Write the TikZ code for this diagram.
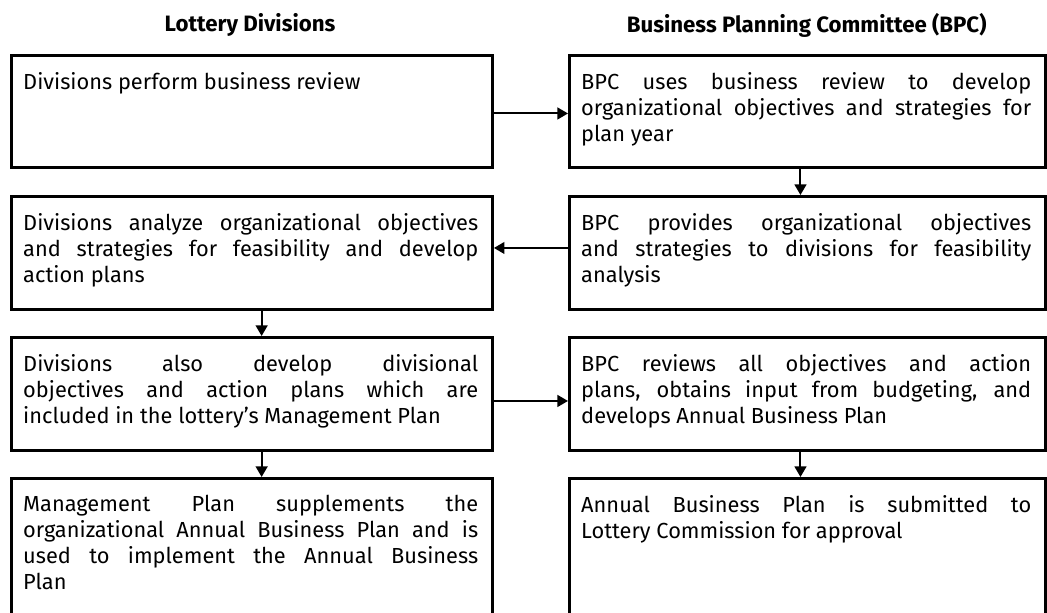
\documentclass[tikz,border=0pt]{standalone}
\usepackage{fontspec}
\setmainfont{Fira Sans}
\usetikzlibrary{arrows.meta}
\usetikzlibrary{positioning}

\tikzset{
	box/.style={draw, rectangle, line width=2.5pt, inner sep=0pt, anchor=north west},
	boxtext/.style={anchor=north west, inner sep=0pt, align=justify,
		font=\fontsize{18.6}{22}\selectfont},
	head/.style={inner sep=0pt, font=\bfseries\fontsize{19}{22}\selectfont},
	link/.style={-{Triangle[length=9pt,width=10pt]}, line width=1.7pt},
}

\begin{document}
\begin{tikzpicture}
	\clip (0,0) rectangle (31.41,-18.36);

	% column headings
	\node[head] (hleft) at (7.5,-0.75) {Lottery Divisions};
	\node[head] (hright) at (24.2,-0.75) {Business Planning Committee (BPC)};

	% boxes
	\begin{scope}[every node/.style={box}]
		\node[minimum width=14.43cm, minimum height=3.36cm] (lb1) at (0.3,-1.62) {};
		\node[minimum width=14.28cm, minimum height=3.36cm] (rb1) at (17.04,-1.62) {};
		\node[minimum width=14.43cm, minimum height=3.39cm] (lb2) at (0.3,-5.85) {};
		\node[minimum width=14.28cm, minimum height=3.39cm] (rb2) at (17.04,-5.85) {};
		\node[minimum width=14.43cm, minimum height=3.39cm] (lb3) at (0.3,-10.08) {};
		\node[minimum width=14.28cm, minimum height=3.39cm] (rb3) at (17.04,-10.08) {};
		\node[minimum width=14.43cm, minimum height=5cm] (lb4) at (0.3,-14.31) {};
		\node[minimum width=14.28cm, minimum height=5cm] (rb4) at (17.04,-14.31) {};
	\end{scope}

	% texts
	\begin{scope}[every node/.style={boxtext}]
		\node[text width=13.65cm] (lt1) at ([xshift=0.39cm,yshift=-0.55cm]lb1.north west)
			{Divisions perform business review};
		\node[text width=13.5cm] (rt1) at ([xshift=0.39cm,yshift=-0.55cm]rb1.north west)
			{BPC uses business review to develop\linebreak
			 organizational objectives and strategies for\linebreak
			 plan year};
		\node[text width=13.65cm] (lt2) at ([xshift=0.39cm,yshift=-0.55cm]lb2.north west)
			{Divisions analyze organizational objectives\linebreak
			 and strategies for feasibility and develop\linebreak
			 action plans};
		\node[text width=13.5cm] (rt2) at ([xshift=0.39cm,yshift=-0.55cm]rb2.north west)
			{BPC provides organizational objectives\linebreak
			 and strategies to divisions for feasibility\linebreak
			 analysis};
		\node[text width=13.65cm] (lt3) at ([xshift=0.39cm,yshift=-0.55cm]lb3.north west)
			{Divisions also develop divisional\linebreak
			 objectives and action plans which are\linebreak
			 included in the lottery's Management Plan};
		\node[text width=13.5cm] (rt3) at ([xshift=0.39cm,yshift=-0.55cm]rb3.north west)
			{BPC reviews all objectives and action\linebreak
			 plans, obtains input from budgeting, and\linebreak
			 develops Annual Business Plan};
		\node[text width=13.65cm] (lt4) at ([xshift=0.39cm,yshift=-0.55cm]lb4.north west)
			{Management Plan supplements the\linebreak
			 organizational Annual Business Plan and is\linebreak
			 used to implement the Annual Business\linebreak
			 Plan};
		\node[text width=13.5cm] (rt4) at ([xshift=0.39cm,yshift=-0.55cm]rb4.north west)
			{Annual Business Plan is submitted to\linebreak
			 Lottery Commission for approval};
	\end{scope}

	% connectors
	\draw[link] ([yshift=-0.06cm]lb1.east) -- ([yshift=-0.06cm]rb1.west);
	\draw[link] ([xshift=-0.21cm]rb1.south) -- ([xshift=-0.21cm]rb2.north);
	\draw[link] ([yshift=0.15cm]rb2.west) -- ([yshift=0.15cm]lb2.east);
	\draw[link] ([xshift=0.29cm]lb2.south) -- ([xshift=0.29cm]lb3.north);
	\draw[link] ([yshift=-0.21cm]lb3.east) -- ([yshift=-0.21cm]rb3.west);
	\draw[link] ([xshift=0.29cm]lb3.south) -- ([xshift=0.29cm]lb4.north);
	\draw[link] ([xshift=-0.21cm]rb3.south) -- ([xshift=-0.21cm]rb4.north);
\end{tikzpicture}
\end{document}
